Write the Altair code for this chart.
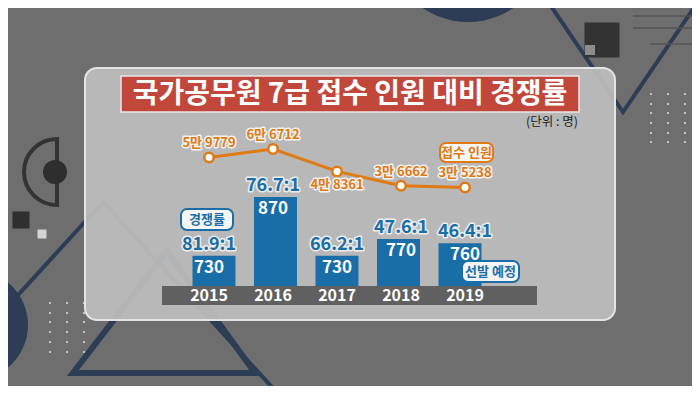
import altair as alt
import pandas as pd

# ---------------- data ----------------
years = [2015, 2016, 2017, 2018, 2019]
selected = [730, 870, 730, 770, 760]            # 선발 인원 (bars)
ratio_labels = ["81.9:1", "76.7:1", "66.2:1", "47.6:1", "46.4:1"]
applicants = [59779, 66712, 48361, 36662, 35238]  # 접수 인원 (line)
applicant_label_pos = ["above", "above", "below", "above", "above"]

title_text = "국가공무원 7급 접수 인원 대비 경쟁률"
unit_text = "(단위 : 명)"
ratio_tag = "경쟁률"
selected_tag = "선발 예정"
applicant_tag = "접수 인원"

# ---------------- style ----------------
FONT = "Noto Sans CJK KR"
W, H = 684, 378
BLUE = "#1a6ea8"
ORANGE = "#e07a12"
NAVY = "#2c3d55"
BG = "#6e6e6e"

df = pd.DataFrame({
    "year": years,
    "selected": selected,
    "ratio": ratio_labels,
    "applicants": applicants,
    "pos": applicant_label_pos,
    "year_label": [str(y) for y in years],
    "app_label": [f"{v // 10000}만 {v % 10000}" for v in applicants],
})

BAR_BASE = 658
xs = alt.Scale(domain=[2015, 2019], range=[201, 457])
ybar = alt.Scale(domain=[BAR_BASE, 1320], range=[278, 0])
yline = alt.Scale(domain=[30000, 70000], range=[185.8, 137])

X = alt.X("year:Q", scale=xs, axis=None)
YB = alt.Y("selected:Q", scale=ybar, axis=None)
YL = alt.Y("applicants:Q", scale=yline, axis=None)

one = pd.DataFrame({"k": [0]})


def deco():
    return alt.Chart(one)


def px(df_):
    return alt.Chart(df_)


# ---------------- background decorations ----------------
top_circle = deco().mark_point(shape="circle", filled=True, color=NAVY, opacity=1, size=26244).encode(
    x=alt.value(460), y=alt.value(-67))
left_circle = deco().mark_point(shape="circle", filled=True, color=NAVY, opacity=1, size=12100).encode(
    x=alt.value(-35), y=alt.value(317))
half_arc = deco().mark_point(shape="M0,-1 A1,1 0 0,0 0,1 Z", filled=False, stroke="#333333",
                             strokeWidth=4, opacity=1, size=4356).encode(x=alt.value(49), y=alt.value(164))
dark_dot = deco().mark_point(shape="circle", filled=True, color="#2e2e2e", opacity=1, size=576).encode(
    x=alt.value(47), y=alt.value(164))

squares = px(pd.DataFrame({
    "px": [13, 34, -6, 594, 582],
    "py": [212, 226, 129, 32, 42],
    "s": [289, 81, 100, 1225, 100],
    "c": ["#2f2f2f", "#d4d4d4", "#9a9a9a", "#333333", "#8c8c8c"],
})).mark_point(shape="square", filled=True, opacity=1).encode(
    x=alt.X("px:Q", scale=None), y=alt.Y("py:Q", scale=None),
    size=alt.Size("s:Q", scale=None), color=alt.Color("c:N", scale=None))

hlines = px(pd.DataFrame({
    "x1": [625, 625, 642], "x2": [700, 700, 700], "yy": [8, 20, 36],
})).mark_rule(color="#555555", strokeWidth=1.5).encode(
    x=alt.X("x1:Q", scale=None), x2="x2:Q", y=alt.Y("yy:Q", scale=None))

tri_top = deco().mark_point(shape="M-1,-0.735L1,-0.735L0,0.735Z", filled=False, stroke=NAVY,
                            strokeWidth=4, opacity=1, size=27556).encode(x=alt.value(615), y=alt.value(43))
tri_big = deco().mark_point(shape="M0,-0.548L1,0.548L-1,0.548Z", filled=False, stroke=NAVY,
                            strokeWidth=4, opacity=1, size=158404).encode(x=alt.value(95), y=alt.value(303))
tri_low = deco().mark_point(shape="M0.03,-0.67L1,0.67L-1,0.67Z", filled=False, stroke=NAVY,
                            strokeWidth=6, opacity=1, size=33124).encode(x=alt.value(156), y=alt.value(304))

dot_x = [42, 59, 76] * 6 + [643, 660, 677] * 6
dot_y = [v for v in [295, 305, 314, 324, 334, 344] for _ in range(3)] + \
        [v for v in [86, 96, 105, 115, 125, 134] for _ in range(3)]
dots = px(pd.DataFrame({"px": dot_x, "py": dot_y})).mark_point(
    shape="circle", filled=True, color="#d6d6d6", opacity=1, size=5).encode(
    x=alt.X("px:Q", scale=None), y=alt.Y("py:Q", scale=None))

# ---------------- panel & title ----------------
panel = deco().mark_rect(cornerRadius=12, fill="#bdbdbd", fillOpacity=0.93,
                         stroke="#e4e4e4", strokeWidth=2).encode(
    x=alt.value(77), x2=alt.value(607), y=alt.value(60), y2=alt.value(312))
title_box = deco().mark_rect(fill="#c1473a", stroke="#e8e8e8", strokeWidth=1.5).encode(
    x=alt.value(113), x2=alt.value(571), y=alt.value(68), y2=alt.value(104))
title = deco().mark_text(text=title_text, font=FONT, fontSize=28, fontWeight="bold", color="white",
                         align="center", baseline="middle").encode(x=alt.value(342), y=alt.value(87))
unit = deco().mark_text(text=unit_text, font=FONT, fontSize=12.5, color="#222222",
                        align="center", baseline="middle").encode(x=alt.value(544), y=alt.value(114))

# ---------------- bars ----------------
band = deco().mark_rect(fill="#606060").encode(
    x=alt.value(154), x2=alt.value(529), y=alt.value(278), y2=alt.value(297))
base = alt.Chart(df)
bars = base.mark_bar(size=43, color=BLUE).encode(x=X, y=YB, y2=alt.datum(BAR_BASE))
year_text = base.mark_text(font=FONT, fontSize=16, fontWeight="bold", color="white",
                           baseline="middle").encode(x=X, y=alt.value(288), text="year_label:N")
bar_values = base.mark_text(font=FONT, fontSize=17, fontWeight="bold", color="white",
                            baseline="middle", dy=12).encode(x=X, y=YB, text="selected:Q")
ratio_outline = base.mark_text(font=FONT, fontSize=18, fontWeight="bold", fill=BLUE,
                               stroke="#eeeeee", strokeWidth=3, strokeJoin="round",
                               baseline="middle", dy=-11).encode(x=X, y=YB, text="ratio:N")
ratio_text = base.mark_text(font=FONT, fontSize=18, fontWeight="bold", color=BLUE,
                            baseline="middle", dy=-11).encode(x=X, y=YB, text="ratio:N")

# ---------------- line ----------------
line = base.mark_line(color=ORANGE, strokeWidth=3).encode(x=X, y=YL)
points = base.mark_point(shape="circle", filled=True, fill="white", stroke=ORANGE,
                         strokeWidth=2.5, opacity=1, size=90).encode(x=X, y=YL)


def app_labels(pos, dy):
    common = dict(font=FONT, fontSize=13, fontWeight="bold", baseline="middle", dy=dy)
    src = base.transform_filter(alt.datum.pos == pos)
    o = src.mark_text(fill=ORANGE, stroke="#f2f2f2", strokeWidth=3, strokeJoin="round", **common).encode(
        x=X, y=YL, text="app_label:N")
    t = src.mark_text(color=ORANGE, **common).encode(x=X, y=YL, text="app_label:N")
    return [o, t]


# ---------------- tags ----------------
def tag(text, x1, x2, y1, y2, color):
    box = deco().mark_rect(cornerRadius=6, fill="#f5f5f5", stroke=color, strokeWidth=2).encode(
        x=alt.value(x1), x2=alt.value(x2), y=alt.value(y1), y2=alt.value(y2))
    t = deco().mark_text(text=text, font=FONT, fontSize=13, fontWeight="bold", color=color,
                         align="center", baseline="middle").encode(
        x=alt.value((x1 + x2) / 2), y=alt.value((y1 + y2) / 2))
    return [box, t]


layers = [top_circle, left_circle, tri_top, tri_big, tri_low, half_arc, dark_dot, squares, hlines, dots,
          panel, title_box, title, unit, band, bars, year_text, bar_values, ratio_outline, ratio_text,
          line, points]
layers += app_labels("above", -14) + app_labels("below", 14)
layers += tag(ratio_tag, 173, 225, 201, 222, BLUE)
layers += tag(selected_tag, 454, 511, 253, 274, BLUE)
layers += tag(applicant_tag, 432, 485, 135, 154, ORANGE)

chart = alt.layer(*layers).resolve_scale(x="independent", y="independent").properties(
    width=W, height=H, background=BG, padding=0,
    autosize=alt.AutoSizeParams(type="none"),
).configure_view(stroke=None)

chart.save("out.html", embed_options={"renderer": "svg", "actions": False})
